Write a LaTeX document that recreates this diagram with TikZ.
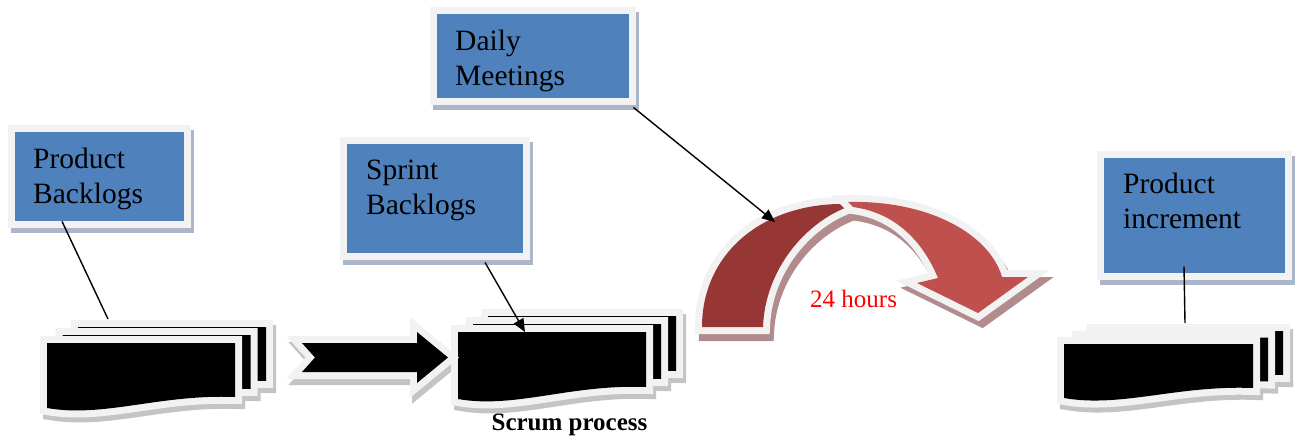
\documentclass[tikz,border=0pt]{standalone}
\usepackage{fontspec}
\setmainfont{Liberation Serif}
\usetikzlibrary{arrows.meta,backgrounds}
\definecolor{framegray}{RGB}{242,242,242}
\definecolor{boxblue}{RGB}{79,129,189}
\definecolor{shadowblue}{RGB}{172,182,202}
\definecolor{shadowgray}{RGB}{196,196,196}
\definecolor{darkred}{RGB}{150,55,53}
\definecolor{lightred}{RGB}{192,80,77}
\definecolor{shadowred}{RGB}{178,140,140}
\newcommand\docshape[6]{%
  \path[#1] (#2,#3) -- ({#2+#4},#3) -- ({#2+#4},#6)
    .. controls ({#2+0.6*#4},{#6-3}) and ({#2+0.3*#4},{#5+10}) .. (#2,#5) -- cycle;}
\newcommand\docgroup[7]{%
  \begin{scope}[on background layer]
    \foreach \k in {2,1,0}{%
      \begin{scope}[shift={({\k*#6+3},{\k*#7+5})}]
        \docshape{docshadow}{#1}{#2}{#3}{#4}{#5}
      \end{scope}}
  \end{scope}
  \foreach \k in {2,1,0}{%
    \begin{scope}[shift={({\k*#6},{\k*#7})}]
      \docshape{docframe}{#1}{#2}{#3}{#4}{#5}
      \docshape{docfill}{#1}{#2}{#3}{#4}{#5}
    \end{scope}}}
\begin{document}
\begin{tikzpicture}[x=1pt,y=-1pt,
  bluebox/.style={fill=boxblue, inner sep=0, anchor=north west,
    preaction={draw=framegray, line width=14pt}},
  boxshadow/.style={fill=shadowblue},
  boxtext/.style={font=\fontsize{29.5pt}{35pt}\selectfont, align=left, inner sep=0, anchor=north west},
  docshadow/.style={draw=shadowgray, fill=shadowgray, line width=14pt, line join=miter},
  docframe/.style={draw=framegray, fill=framegray, line width=14pt, line join=miter},
  docfill/.style={fill=black},
  conn/.style={line width=1.4pt, draw=black},
  connarrow/.style={conn, -{Triangle[length=13pt,width=11pt]}},
  bigframe/.style={draw=framegray, line width=14pt, line join=miter, miter limit=4},
]
\useasboundingbox (0,0) rectangle (1298,437);
\begin{scope}[on background layer]
  \fill[white] (0,0) rectangle (1298,437);
\end{scope}

% ---------- boxes ----------
\node[bluebox, minimum width=169pt, minimum height=89pt] (pb) at (15,132) {};
\node[bluebox, minimum width=176pt, minimum height=109pt] (sb) at (347,144) {};
\node[bluebox, minimum width=192pt, minimum height=84pt] (dm) at (437,14) {};
\node[bluebox, minimum width=181pt, minimum height=115pt] (pi) at (1104,158) {};
\begin{scope}[on background layer]
  \foreach \b in {pb,sb,dm,pi}{
    \path[boxshadow] ([xshift=-4.5pt,yshift=2pt]\b.north west) rectangle ([xshift=9.5pt,yshift=-12pt]\b.south east);}
\end{scope}
\node[boxtext] (pbt) at ([xshift=18pt,yshift=-16pt]pb.north west) {Product\\Backlogs};
\node[boxtext] (sbt) at ([xshift=19pt,yshift=-16pt]sb.north west) {Sprint\\Backlogs};
\node[boxtext] (dmt) at ([xshift=18pt,yshift=-16pt]dm.north west) {Daily\\Meetings};
\node[boxtext] (pit) at ([xshift=19pt,yshift=-15pt]pi.north west) {Product\\increment};

% ---------- document stacks ----------
\docgroup{47}{343}{188}{408}{397}{15.5}{-8}
\docgroup{458}{332}{188}{399}{387}{15}{-8}
\docgroup{1064}{344}{189}{398}{388}{15}{-6.5}

% ---------- block arrow ----------
\begin{scope}[on background layer]
  \path[fill=shadowgray, draw=shadowgray, line width=14pt, line join=miter, shift={(2,6)}]
    (302,343) -- (417,343) -- (417,332) -- (448,357.5) -- (417,383) -- (417,372) -- (302,372) -- (315,357.5) -- cycle;
\end{scope}
\path[bigframe, fill=framegray]
  (302,343) -- (417,343) -- (417,332) -- (448,357.5) -- (417,383) -- (417,372) -- (302,372) -- (315,357.5) -- cycle;
\path[fill=black]
  (302,343) -- (417,343) -- (417,332) -- (448,357.5) -- (417,383) -- (417,372) -- (302,372) -- (315,357.5) -- cycle;

% ---------- curved arrow ----------
\begin{scope}[on background layer]
  \path[fill=shadowred, draw=shadowred, line width=14pt, line join=miter, miter limit=4, shift={(4,7)}]
    (702,327) .. controls (702,255) and (760,205) .. (840,204) -- (850,206)
    .. controls (805,222) and (765,270) .. (763,327) -- cycle;
  \path[fill=shadowred, draw=shadowred, line width=14pt, line join=miter, miter limit=4, shift={(4,7)}]
    (848,202) .. controls (930,200) and (990,235) .. (1002,277) -- (1028,277) -- (978,313)
    -- (917,283) -- (938,278) .. controls (920,235) and (890,212) .. (853,207) -- cycle;
\end{scope}
\path[bigframe, fill=framegray]
  (702,327) .. controls (702,255) and (760,205) .. (840,204) -- (850,206)
  .. controls (805,222) and (765,270) .. (763,327) -- cycle;
\path[fill=darkred]
  (702,327) .. controls (702,255) and (760,205) .. (840,204) -- (850,206)
  .. controls (805,222) and (765,270) .. (763,327) -- cycle;
\path[bigframe, fill=framegray]
  (848,202) .. controls (930,200) and (990,235) .. (1002,277) -- (1028,277) -- (978,313)
  -- (917,283) -- (938,278) .. controls (920,235) and (890,212) .. (853,207) -- cycle;
\path[fill=lightred]
  (848,202) .. controls (930,200) and (990,235) .. (1002,277) -- (1028,277) -- (978,313)
  -- (917,283) -- (938,278) .. controls (920,235) and (890,212) .. (853,207) -- cycle;

% ---------- labels ----------
\node[font=\fontsize{25pt}{30pt}\selectfont, text=red, inner sep=0, anchor=base west] (hours) at (810,307) {24 hours};
\node[font=\fontsize{25pt}{30pt}\selectfont\bfseries, inner sep=0, anchor=base] (scrum) at (569.5,430) {Scrum process};

% ---------- connectors ----------
\coordinate (ldoctop) at (108,319);
\coordinate (mdoctop) at (525,332);
\coordinate (meet) at (775,222);
\coordinate (rdoctop) at (1185,323);
\draw[conn] ([xshift=47pt]pb.south west) -- (ldoctop);
\draw[connarrow] ([xshift=138pt,yshift=-9pt]sb.south west) -- (mdoctop);
\draw[connarrow] ([xshift=4pt,yshift=-9pt]dm.south east) -- (meet);
\draw[conn] ([xshift=80pt,yshift=7pt]pi.south west) -- (rdoctop);
\end{tikzpicture}
\end{document}
